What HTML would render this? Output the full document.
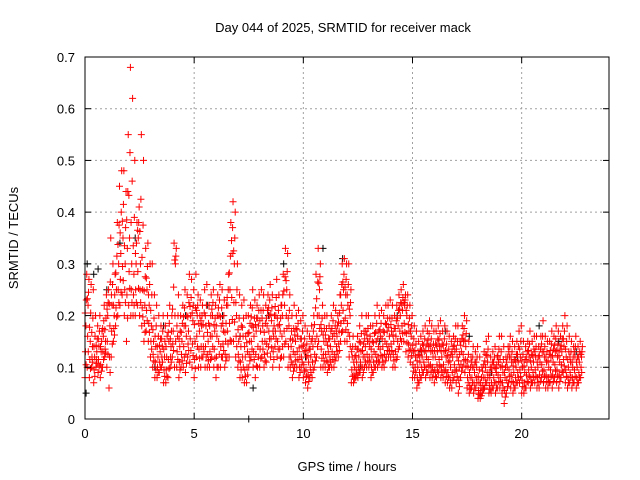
<!DOCTYPE html>
<html><head><meta charset="utf-8"><style>
body{margin:0;background:#fff}
svg{display:block;font-family:"Liberation Sans",sans-serif}
</style></head><body>
<svg id="chart" width="640" height="480" viewBox="0 0 640 480" xmlns="http://www.w3.org/2000/svg">
<rect width="640" height="480" fill="#fff"/>
<g id="grid"></g>
<g id="marks"></g>
<rect x="85" y="57" width="524" height="362" fill="none" stroke="#000"/>
<g id="ticks" font-size="13"></g>
<text x="343" y="32" text-anchor="middle" font-size="13">Day 044 of 2025, SRMTID for receiver mack</text>
<text x="347" y="471" text-anchor="middle" font-size="13">GPS time / hours</text>
<text transform="translate(18,238) rotate(-90)" text-anchor="middle" font-size="13">SRMTID / TECUs</text>
</svg>
<script>
const xTicks=[0,5,10,15,20];
const yTicks=[0,0.1,0.2,0.3,0.4,0.5,0.6,0.7];
const binStart=0, binStep=0.1;
const redMid=[.18,.22,.15,.14,.12,.13,.14,.13,.16,.15,
.2,.18,.22,.2,.25,.3,.32,.35,.3,.33,
.35,.3,.28,.3,.35,.3,.25,.22,.25,.22,
.18,.15,.14,.12,.13,.14,.12,.12,.15,.14,
.17,.3,.16,.14,.15,.18,.16,.17,.2,.19,
.15,.2,.17,.18,.16,.18,.15,.16,.2,.17,
.16,.2,.18,.17,.15,.22,.25,.32,.3,.2,
.15,.14,.16,.12,.13,.15,.18,.16,.17,.18,
.17,.18,.15,.18,.2,.19,.16,.2,.18,.17,
.2,.22,.25,.18,.14,.13,.15,.16,.12,.14,
.13,.12,.11,.12,.14,.15,.2,.25,.17,.15,
.15,.13,.14,.16,.15,.16,.17,.22,.25,.24,
.22,.2,.12,.1,.11,.12,.13,.12,.14,.15,
.14,.12,.13,.15,.14,.16,.14,.15,.17,.16,
.17,.15,.16,.18,.2,.21,.22,.2,.17,.16,
.13,.12,.1,.11,.12,.13,.12,.14,.13,.12,
.12,.13,.14,.12,.13,.12,.11,.1,.12,.13,
.12,.1,.13,.15,.14,.1,.08,.1,.09,.1,
.07,.06,.08,.1,.11,.08,.09,.1,.09,.11,
.1,.09,.08,.1,.12,.11,.09,.1,.11,.12,
.1,.09,.11,.12,.1,.11,.12,.1,.11,.13,
.12,.11,.1,.12,.11,.13,.12,.11,.13,.14,
.12,.1,.11,.1,.12,.1,.11,.12];
const redHigh=[.28,.27,.26,.25,.2,.18,.2,.17,.22,.24,
.25,.35,.3,.28,.38,.45,.48,.48,.44,.55,
.68,.62,.5,.38,.41,.55,.5,.33,.34,.3,
.3,.24,.22,.2,.18,.2,.18,.2,.22,.2,
.34,.33,.24,.2,.22,.25,.24,.28,.27,.25,
.28,.24,.23,.22,.25,.26,.22,.24,.25,.22,
.24,.26,.25,.23,.22,.28,.38,.42,.4,.3,
.24,.22,.23,.2,.2,.22,.25,.23,.22,.24,
.25,.24,.22,.24,.26,.24,.2,.27,.24,.22,
.28,.33,.32,.24,.2,.22,.2,.21,.19,.2,
.18,.17,.16,.18,.2,.28,.33,.3,.22,.2,
.2,.18,.2,.22,.21,.2,.24,.3,.31,.3,
.3,.25,.16,.14,.16,.18,.2,.17,.2,.2,
.18,.18,.2,.22,.2,.21,.2,.22,.22,.23,
.22,.2,.22,.24,.25,.26,.24,.24,.22,.2,
.18,.17,.15,.16,.17,.18,.17,.19,.18,.17,
.17,.18,.19,.17,.18,.17,.16,.15,.16,.18,
.18,.15,.18,.2,.19,.15,.12,.14,.13,.14,
.12,.1,.13,.15,.16,.12,.13,.14,.12,.16,
.16,.14,.12,.14,.16,.15,.14,.15,.17,.18,
.15,.14,.15,.17,.15,.16,.16,.14,.16,.19,
.16,.15,.15,.17,.16,.18,.17,.16,.18,.2,
.18,.16,.15,.14,.16,.14,.15,.14];
const redLow=[.08,.1,.08,.1,.07,.1,.09,.08,.1,.12,
.1,.06,.12,.15,.18,.2,.22,.24,.2,.15,
.22,.2,.2,.2,.22,.2,.18,.15,.17,.15,
.12,.1,.08,.08,.09,.1,.07,.07,.08,.1,
.12,.1,.1,.08,.1,.1,.09,.12,.11,.1,
.08,.12,.1,.1,.12,.1,.1,.1,.12,.1,
.08,.1,.1,.12,.1,.12,.12,.15,.15,.12,
.1,.08,.08,.07,.07,.1,.12,.1,.08,.1,
.1,.12,.1,.11,.14,.12,.1,.14,.12,.1,
.12,.12,.15,.1,.1,.08,.1,.1,.08,.1,
.08,.07,.06,.08,.08,.1,.12,.15,.1,.1,
.1,.09,.1,.1,.1,.12,.12,.15,.17,.15,
.15,.12,.07,.07,.08,.08,.09,.08,.1,.1,
.1,.08,.09,.1,.1,.11,.1,.1,.12,.12,
.12,.1,.1,.12,.14,.15,.15,.13,.12,.11,
.08,.08,.06,.07,.08,.09,.08,.09,.08,.08,
.07,.08,.09,.08,.08,.07,.07,.06,.06,.08,
.07,.05,.08,.1,.09,.06,.05,.06,.05,.06,
.04,.04,.05,.06,.07,.05,.05,.06,.05,.06,
.06,.05,.03,.05,.07,.06,.05,.06,.07,.07,
.05,.05,.06,.07,.06,.07,.07,.06,.06,.08,
.07,.06,.06,.07,.06,.08,.07,.06,.08,.09,
.07,.06,.07,.06,.07,.06,.07,.08];
const blackT=[0.05,0.1,0.4,0.6,1.0,1.6,2.3,3.2,3.6,4.6,5.6,6.3,7.1,7.5,7.7,8.4,9.1,10.1,10.9,11.8,12.6,13.5,14.3,15.4,16.5,17.6,18.6,19.8,20.8,21.7,22.5];
const blackV=[0.05,0.3,0.28,0.29,0.25,0.34,0.35,0.1,0.18,0.2,0.22,0.2,0.16,0.0,0.06,0.2,0.3,0.12,0.33,0.31,0.1,0.15,0.2,0.13,0.17,0.16,0.09,0.12,0.18,0.15,0.13];

const X0=85,X1=609,Y0=419,Y1=57,XMAX=24,YMAX=0.7;
const xs=t=>X0+(X1-X0)*t/XMAX;
const ys=v=>Y0-(Y0-Y1)*v/YMAX;
const NS="http://www.w3.org/2000/svg";
const grid=document.getElementById('grid'),ticks=document.getElementById('ticks'),marks=document.getElementById('marks');
function mk(tag,attrs,parent){const e=document.createElementNS(NS,tag);for(const k in attrs)e.setAttribute(k,attrs[k]);parent.appendChild(e);return e;}
xTicks.forEach(t=>{
  const x=xs(t);
  if(t>0){const g=mk('line',{x1:x,x2:x,y1:Y0,y2:Y1,stroke:'#a0a0a0','stroke-dasharray':'2,3','stroke-width':1},grid);
  
  }
  mk('line',{x1:x,x2:x,y1:Y0,y2:Y0-6,stroke:'#000'},ticks);
  mk('line',{x1:x,x2:x,y1:Y1,y2:Y1+6,stroke:'#000'},ticks);
  const l=mk('text',{x:x,y:Y0+19,'text-anchor':'middle'},ticks);l.textContent=t;
  
  
});
yTicks.forEach(v=>{
  const y=ys(v);
  if(v>0&&v<0.7){const g=mk('line',{x1:X0,x2:X1,y1:y,y2:y,stroke:'#a0a0a0','stroke-dasharray':'2,3','stroke-width':1},grid);
  
  }
  mk('line',{x1:X0,x2:X0+6,y1:y,y2:y,stroke:'#000'},ticks);
  mk('line',{x1:X1,x2:X1-6,y1:y,y2:y,stroke:'#000'},ticks);
  const l=mk('text',{x:X0-10,y:y+5,'text-anchor':'end'},ticks);l.textContent=(v===0?'0':v.toFixed(1));
  
  
});
function plus(t,v,color){
  const x=xs(t),y=ys(v);
  const p=mk('path',{d:`M${x-3.5},${y}h7M${x},${y-3.5}v7`,stroke:color,'stroke-width':1,fill:'none'},marks);
  
  
}
blackT.forEach((t,i)=>plus(t,blackV[i],'#000'));
redMid.forEach((v,i)=>{
  const t=binStart+i*binStep;
  const lo=redLow[i],hi=redHigh[i];
  plus(t,lo,'#f00');
  plus(t+0.02,(lo+v)/2,'#f00');
  plus(t+0.04,v,'#f00');
  plus(t+0.06,(v+hi)/2,'#f00');
  plus(t+0.08,hi,'#f00');
  plus(t+0.05,(lo*3+v)/4,'#f00');
  plus(t+0.01,(v*3+hi)/4,'#f00');
});
</script>
</body></html>
